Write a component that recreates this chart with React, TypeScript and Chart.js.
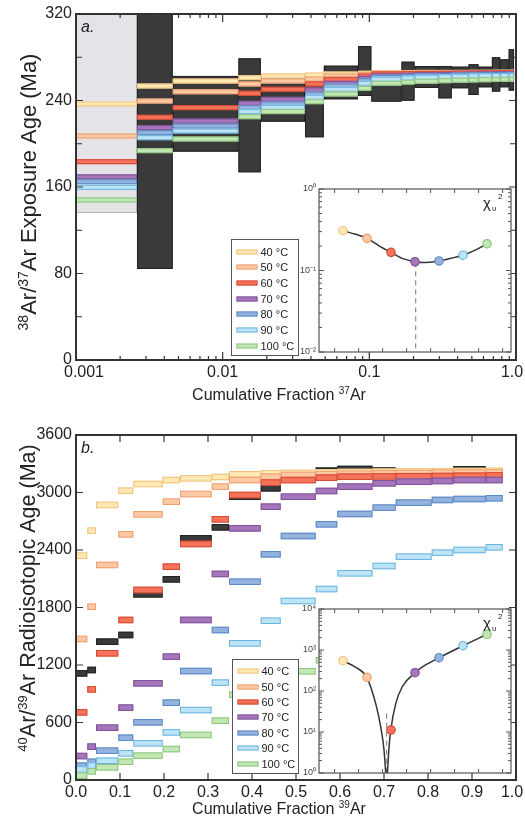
import React, { useEffect, useRef } from 'react';
import { Chart, registerables } from 'chart.js';

Chart.register(...registerables);

const FONT = "'Liberation Sans', Arimo, Arial, sans-serif";
Chart.defaults.font.family = FONT;
Chart.defaults.color = '#222';

// ---------- shared series styling ----------
const TEMP_LABELS = ['40 °C', '50 °C', '60 °C', '70 °C', '80 °C', '90 °C', '100 °C'];
const TEMP_C = [40, 50, 60, 70, 80, 90, 100];
const TEMP_FILL = ['#fee9b4', '#fcc9a4', '#f4735a', '#a676bb', '#93b3de', '#bde4f6', '#c3e6b5'];
const TEMP_EDGE = ['#efc27e', '#eea06f', '#d54a34', '#7f5298', '#5c88c4', '#69b4de', '#8cc67e'];
const MEAS_FILL = '#3a3a3a';
const MEAS_EDGE = '#222222';

// ---------- panel a: 38Ar/37Ar exposure ages ----------
const A_STEPS = [0.001, 0.002605, 0.004566, 0.01281, 0.01821, 0.03645, 0.04894, 0.08368, 0.1032, 0.1657, 0.2033, 0.2955, 0.3645, 0.4743, 0.5554, 0.6848, 0.7808, 0.8913, 0.97];
const A_40 = [236.8, 253.4, 258.0, 261.1, 262.7, 263.6, 264.5, 265.2, 265.8, 265.9, 266.0, 266.0, 266.0, 266.1, 266.1, 266.2, 266.2, 266.2];
const A_50 = [207.2, 239.5, 248.1, 255.3, 258.0, 259.9, 262.7, 263.9, 265.2, 265.4, 265.5, 265.6, 265.7, 265.8, 265.8, 265.9, 265.9, 266.0];
const A_60 = [183.4, 224.5, 233.4, 246.7, 250.4, 255.3, 259.6, 262.7, 264.6, 264.9, 265.1, 265.2, 265.4, 265.5, 265.6, 265.7, 265.7, 265.8];
const A_70 = [169.4, 214.9, 221.0, 237.4, 241.1, 249.7, 255.9, 260.5, 262.8, 263.4, 263.8, 264.1, 264.3, 264.5, 264.6, 264.7, 264.8, 264.9];
const A_80 = [164.9, 210.2, 216.4, 233.4, 236.8, 246.0, 253.4, 258.3, 261.5, 262.3, 262.8, 263.2, 263.5, 263.7, 263.9, 264.0, 264.1, 264.2];
const A_90 = [159.7, 205.6, 211.8, 229.7, 233.7, 243.0, 250.4, 255.9, 259.7, 260.8, 261.5, 262.0, 262.4, 262.7, 262.9, 263.1, 263.2, 263.3];
const A_100 = [148.0, 193.6, 204.4, 225.0, 229.7, 238.9, 246.0, 251.3, 255.9, 257.0, 257.8, 258.3, 258.7, 259.0, 259.2, 259.4, 259.6, 259.7];
const A_MEAS_LO = [84.2, 192.7, 173.6, 220.4, 206.0, 241.1, 244.2, 238.9, 239.8, 251.6, 242.0, 251.3, 245.1, 252.2, 248.2, 252.2, 249.1];
const A_MEAS_HI = [330.0, 262.7, 279.0, 263.6, 264.5, 272.2, 290.4, 267.3, 275.9, 271.9, 271.9, 271.3, 273.5, 271.3, 280.0, 278.1, 287.4];
const A_EXCLUDED_LO = 136;
const A_EXCLUDED_HI = 320;
const A_HALF = 2.3;
const A_X_TICKS = [0.001, 0.01, 0.1, 1];
const A_X_LABELS = ['\u20030.001', '0.01', '0.1', '1.0\u2002'];
const A_Y_TICKS = [0, 80, 160, 240, 320];
const A_Y_MINOR = [40, 120, 200, 280];
const A_X_TITLE = [{ t: 'Cumulative Fraction ' }, { t: '37', sup: true }, { t: 'Ar' }];
const A_Y_TITLE = [{ t: '38', sup: true }, { t: 'Ar/' }, { t: '37', sup: true }, { t: 'Ar Exposure Age (Ma)' }];

// inset a (reduced chi-square)
const INSET_A_CHI = [0.308, 0.248, 0.167, 0.128, 0.131, 0.154, 0.213];
const INSET_A_FIT_T = [40, 45.3, 50, 55, 60, 64.7, 70, 73, 80, 84.9, 90, 95.3, 100];
const INSET_A_FIT_V = [0.308, 0.278, 0.248, 0.201, 0.167, 0.141, 0.128, 0.125, 0.131, 0.141, 0.154, 0.179, 0.213];
const INSET_A_BEST_T = 70.3;
const INSET_A_BEST_V = [0.126, 0.01];
const INSET_A_Y_TICKS = [1, 0.1, 0.01];
const INSET_A_Y_LABELS = ['10⁰', '10⁻¹', '10⁻²'];

// ---------- panel b: 40Ar/39Ar ages ----------
const B_STEPS = [0, 0.0257, 0.0455, 0.0961, 0.1302, 0.197, 0.2364, 0.3084, 0.3477, 0.4198, 0.4652, 0.5448, 0.5939, 0.6739, 0.7266, 0.8084, 0.8575, 0.9311, 0.9698];
const B_40 = [2341, 2602, 2870, 3019, 3089, 3130, 3148, 3162, 3190, 3200, 3205, 3210, 3214, 3217, 3220, 3222, 3224, 3226];
const B_50 = [1471, 1808, 2244, 2564, 2772, 2904, 2984, 3061, 3130, 3165, 3183, 3190, 3195, 3200, 3203, 3206, 3208, 3210];
const B_60 = [706, 946, 1322, 1670, 1983, 2226, 2463, 2720, 2974, 3103, 3130, 3155, 3165, 3168, 3170, 3172, 3175, 3178];
const B_70 = [250, 348, 546, 755, 1009, 1287, 1670, 2150, 2626, 2852, 2956, 3016, 3061, 3096, 3113, 3120, 3130, 3130];
const B_80 = [150, 190, 306, 441, 602, 807, 1137, 1565, 2069, 2355, 2546, 2668, 2776, 2842, 2894, 2922, 2932, 2940];
const B_90 = [110, 150, 201, 278, 383, 497, 730, 1016, 1426, 1662, 1868, 1993, 2157, 2233, 2330, 2372, 2400, 2428];
const B_100 = [45, 90, 132, 191, 254, 323, 470, 619, 890, 1010, 1135, 1250, 1380, 1480, 1570, 1640, 1700, 1740];
const B_MEAS = [1113, 1148, 1443, 1513, 1938, 2094, 2522, 2637, 2956, 3044, 3140, 3228, 3245, 3228, 3185, 3185, 3242, 3195];
const B_HALF = 34;
const B_X_TICKS = [0, 0.1, 0.2, 0.3, 0.4, 0.5, 0.6, 0.7, 0.8, 0.9, 1.0];
const B_X_LABELS = ['0.0', '0.1', '0.2', '0.3', '0.4', '0.5', '0.6', '0.7', '0.8', '0.9', '1.0\u2002'];
const B_Y_TICKS = [0, 600, 1200, 1800, 2400, 3000, 3600];
const B_Y_LABELS = ['0', '600', '1200', '1800', '2400', '3000', '3600'];
const B_X_TITLE = [{ t: 'Cumulative Fraction ' }, { t: '39', sup: true }, { t: 'Ar' }];
const B_Y_TITLE = [{ t: '40', sup: true }, { t: 'Ar/' }, { t: '39', sup: true }, { t: 'Ar Radioisotopic Age (Ma)' }];

// inset b (reduced chi-square)
const INSET_B_CHI = [548, 216, 11.2, 279, 649, 1273, 2415];
const INSET_B_LEFT_T = [40, 45.3, 49.9, 53.6, 55.7, 57.1, 57.8];
const INSET_B_LEFT_V = [548, 378, 216, 50, 13.5, 3.6, 1];
const INSET_B_RIGHT_T = [58.5, 59.2, 59.9, 62, 64.7, 70, 74.4, 80, 90, 100];
const INSET_B_RIGHT_V = [1, 4.4, 11.2, 50, 127, 279, 431, 649, 1273, 2415];
const INSET_B_BEST_T = 58.2;
const INSET_B_BEST_V = [28, 1];
const INSET_B_Y_TICKS = [10000, 1000, 100, 10, 1];
const INSET_B_Y_LABELS = ['10⁴', '10³', '10²', '10¹', '10⁰'];

const INSET_X_TICKS = [36.5, 46.5, 56.5, 66.5, 76.5, 86.5, 96.5, 106.5];

// ---------- helpers ----------
function stepBoxes(steps: number[], values: number[], half: number, log: boolean, offset = 0) {
  return values.map((v, i) => {
    const x0 = steps[i + offset];
    const x1 = steps[i + offset + 1];
    return { x: log ? Math.sqrt(x0 * x1) : (x0 + x1) / 2, y: v, x0, x1, lo: v - half, hi: v + half };
  });
}
function rangeBoxes(steps: number[], lo: number[], hi: number[], log: boolean, offset = 0) {
  return lo.map((l, i) => {
    const x0 = steps[i + offset];
    const x1 = steps[i + offset + 1];
    return { x: log ? Math.sqrt(x0 * x1) : (x0 + x1) / 2, y: (l + hi[i]) / 2, x0, x1, lo: l, hi: hi[i] };
  });
}
function logMinor(decades: number[]) {
  const out: number[] = [];
  decades.forEach((d) => { for (let k = 2; k <= 9; k++) out.push(d * k); });
  return out;
}

// ---------- plugins ----------
const boxPlugin = {
  id: 'stepBoxes',
  beforeDatasetsDraw(chart: any) {
    const { ctx, chartArea: ca } = chart;
    const xs = chart.scales.x;
    const ys = chart.scales.y;
    ctx.save();
    ctx.beginPath();
    ctx.rect(ca.left, ca.top, ca.right - ca.left, ca.bottom - ca.top);
    ctx.clip();
    chart.data.datasets.forEach((ds: any) => {
      if (!ds.boxFill) return;
      ds.data.forEach((d: any) => {
        const px0 = xs.getPixelForValue(d.x0);
        const px1 = xs.getPixelForValue(d.x1);
        const py0 = ys.getPixelForValue(d.hi);
        const py1 = ys.getPixelForValue(d.lo);
        ctx.fillStyle = ds.boxFill;
        ctx.fillRect(px0, py0, px1 - px0, py1 - py0);
        ctx.strokeStyle = ds.boxEdge;
        ctx.lineWidth = 1;
        ctx.strokeRect(px0 + 0.5, py0 + 0.5, px1 - px0 - 1, py1 - py0 - 1);
      });
    });
    ctx.restore();
  },
};

const framePlugin = {
  id: 'frameTicks',
  afterDatasetsDraw(chart: any, _a: any, o: any) {
    if (!o || !o.color) return;
    const { ctx, chartArea: ca } = chart;
    const xs = chart.scales.x;
    const ys = chart.scales.y;
    ctx.save();
    ctx.strokeStyle = o.color;
    ctx.lineWidth = o.tickWidth;
    ctx.beginPath();
    const xt = (vals: number[], len: number) => (vals || []).forEach((v) => {
      const p = xs.getPixelForValue(v);
      if (p < ca.left - 1 || p > ca.right + 1) return;
      ctx.moveTo(p, ca.bottom); ctx.lineTo(p, ca.bottom - len);
      ctx.moveTo(p, ca.top); ctx.lineTo(p, ca.top + len);
    });
    const yt = (vals: number[], len: number) => (vals || []).forEach((v) => {
      const p = ys.getPixelForValue(v);
      if (p < ca.top - 1 || p > ca.bottom + 1) return;
      ctx.moveTo(ca.left, p); ctx.lineTo(ca.left + len, p);
      ctx.moveTo(ca.right, p); ctx.lineTo(ca.right - len, p);
    });
    xt(o.xMajor, o.xMajorLen);
    xt(o.xMinor, o.xMinorLen);
    yt(o.yMajor, o.yMajorLen);
    yt(o.yMinor, o.yMinorLen);
    ctx.stroke();
    ctx.lineWidth = o.frameWidth;
    ctx.strokeRect(ca.left, ca.top, ca.right - ca.left, ca.bottom - ca.top);
    ctx.restore();
  },
};

const legendPlugin = {
  id: 'boxLegend',
  afterDraw(chart: any, _a: any, o: any) {
    if (!o || !o.height) return;
    const { ctx, chartArea: ca } = chart;
    const items = chart.data.datasets.filter((d: any) => d.inLegend);
    const left = Math.round(ca.left + o.left) + 0.5;
    const bottom = Math.round(ca.bottom - o.bottom) + 0.5;
    const top = bottom - o.height;
    ctx.save();
    ctx.fillStyle = '#ffffff';
    ctx.fillRect(left, top, o.width, o.height);
    ctx.strokeStyle = '#555';
    ctx.lineWidth = 1;
    ctx.strokeRect(left, top, o.width, o.height);
    ctx.font = `11px ${FONT}`;
    ctx.textBaseline = 'middle';
    items.forEach((d: any, i: number) => {
      const cy = Math.round(top + o.first + i * o.row);
      ctx.fillStyle = d.boxFill;
      ctx.fillRect(left + 5, cy - 2.5, 21, 5);
      ctx.strokeStyle = d.boxEdge;
      ctx.strokeRect(left + 5.5, cy - 2, 20, 4);
      ctx.fillStyle = '#222';
      ctx.fillText(d.label, left + 29, cy + 0.5);
    });
    ctx.restore();
  },
};

// axis titles with real superscripts
function drawRich(ctx: any, segs: any[], size: number, cx: number, cy: number, vertical: boolean) {
  const supSize = Math.round(size * 0.62);
  const fontFor = (s: any) => `${s.sup ? supSize : size}px ${FONT}`;
  ctx.save();
  ctx.translate(cx, cy);
  if (vertical) ctx.rotate(-Math.PI / 2);
  let total = 0;
  segs.forEach((s) => { ctx.font = fontFor(s); total += ctx.measureText(s.t).width; });
  let x = -total / 2;
  const base = size * 0.36;
  ctx.fillStyle = '#222';
  ctx.textBaseline = 'alphabetic';
  segs.forEach((s) => {
    ctx.font = fontFor(s);
    ctx.fillText(s.t, x, s.sup ? base - size * 0.38 : base);
    x += ctx.measureText(s.t).width;
  });
  ctx.restore();
}

const titlePlugin = {
  id: 'richTitles',
  afterDraw(chart: any, _a: any, o: any) {
    if (!o || !o.x) return;
    const { ctx } = chart;
    drawRich(ctx, o.x.segs, o.x.size, o.x.cx, o.x.cy, false);
    drawRich(ctx, o.y.segs, o.y.size, o.y.cx, o.y.cy, true);
  },
};

const notePlugin = {
  id: 'notes',
  afterDraw(chart: any, _a: any, o: any) {
    if (!o) return;
    const { ctx, chartArea: ca } = chart;
    ctx.save();
    ctx.fillStyle = '#222';
    ctx.textBaseline = 'alphabetic';
    if (o.panel) {
      ctx.font = `italic 16px ${FONT}`;
      ctx.fillText(o.panel, ca.left + 5, ca.top + 18);
    }
    if (o.chi) {
      const x = ca.right - 28;
      const y = ca.top + 19;
      ctx.font = `15px ${FONT}`;
      ctx.fillText('χ', x, y);
      ctx.font = `8px ${FONT}`;
      ctx.fillText('υ', x + 9, y + 3);
      ctx.fillText('2', x + 15, y - 9);
    }
    ctx.restore();
  },
};

const insetBgPlugin = {
  id: 'insetBg',
  beforeDraw(chart: any, _a: any, o: any) {
    if (!o || !o.color) return;
    const { ctx, chartArea: ca } = chart;
    ctx.save();
    ctx.fillStyle = o.color;
    ctx.fillRect(ca.left, ca.top, ca.right - ca.left, ca.bottom - ca.top);
    ctx.restore();
  },
};

const noGrid = { display: false, drawTicks: false };

// ---------- configs ----------
function tempDatasets(series: number[][], steps: number[], half: number, log: boolean) {
  return series.map((vals, i) => ({
    label: TEMP_LABELS[i],
    data: stepBoxes(steps, vals, half, log),
    boxFill: TEMP_FILL[i],
    boxEdge: TEMP_EDGE[i],
    inLegend: true,
    pointRadius: 0,
    pointHoverRadius: 0,
  }));
}

function mainA(): any {
  return {
    type: 'scatter',
    data: {
      datasets: [
        {
          label: 'Excluded',
          data: rangeBoxes(A_STEPS, [A_EXCLUDED_LO], [A_EXCLUDED_HI], true, 0),
          boxFill: '#e4e4e8', boxEdge: '#b4b4b8', pointRadius: 0,
        },
        {
          label: 'Measured',
          data: rangeBoxes(A_STEPS, A_MEAS_LO, A_MEAS_HI, true, 1),
          boxFill: MEAS_FILL, boxEdge: MEAS_EDGE, pointRadius: 0,
        },
        ...tempDatasets([A_40, A_50, A_60, A_70, A_80, A_90, A_100], A_STEPS, A_HALF, true),
      ],
    },
    options: {
      animation: false,
      responsive: false,
      events: [],
      layout: { padding: { top: 14, right: 9, left: 0, bottom: 0 } },
      plugins: {
        legend: { display: false },
        tooltip: { enabled: false },
        frameTicks: {
          color: '#333', tickWidth: 1.2, frameWidth: 2,
          xMajor: A_X_TICKS, xMinor: logMinor([0.001, 0.01, 0.1]), xMajorLen: 8, xMinorLen: 4,
          yMajor: A_Y_TICKS, yMinor: A_Y_MINOR, yMajorLen: 7, yMinorLen: 6,
        },
        boxLegend: { left: 155, bottom: 5, width: 67, height: 116, first: 12, row: 15.7 },
        notes: { panel: 'a.' },
        richTitles: {
          x: { segs: A_X_TITLE, size: 16, cx: 279, cy: 394 },
          y: { segs: A_Y_TITLE, size: 22, cx: 28, cy: 192 },
        },
      },
      scales: {
        x: {
          type: 'logarithmic', min: 0.001, max: 1,
          afterBuildTicks: (s: any) => { s.ticks = A_X_TICKS.map((v) => ({ value: v })); },
          ticks: {
            autoSkip: false, maxRotation: 0, padding: 3, font: { size: 16 }, color: '#222',
            callback: (_v: any, i: number) => A_X_LABELS[i],
          },
          grid: noGrid, border: { display: false },
          afterFit: (s: any) => { s.height = 55; s.paddingLeft = 0; s.paddingRight = 0; },
        },
        y: {
          type: 'linear', min: 0, max: 320,
          afterBuildTicks: (s: any) => { s.ticks = A_Y_TICKS.map((v) => ({ value: v })); },
          ticks: { padding: 4, font: { size: 16 }, color: '#222', callback: (v: any) => String(v) },
          grid: noGrid, border: { display: false },
          afterFit: (s: any) => { s.width = 76; s.paddingTop = 0; s.paddingBottom = 0; },
        },
      },
    },
    plugins: [boxPlugin, framePlugin, legendPlugin, notePlugin, titlePlugin],
  };
}

function mainB(): any {
  return {
    type: 'scatter',
    data: {
      datasets: [
        {
          label: 'Measured',
          data: stepBoxes(B_STEPS, B_MEAS, B_HALF, false),
          boxFill: MEAS_FILL, boxEdge: MEAS_EDGE, pointRadius: 0,
        },
        ...tempDatasets([B_40, B_50, B_60, B_70, B_80, B_90, B_100], B_STEPS, B_HALF, false),
      ],
    },
    options: {
      animation: false,
      responsive: false,
      events: [],
      layout: { padding: { top: 20, right: 9, left: 0, bottom: 0 } },
      plugins: {
        legend: { display: false },
        tooltip: { enabled: false },
        frameTicks: {
          color: '#333', tickWidth: 1.2, frameWidth: 2,
          xMajor: B_X_TICKS, xMinor: [], xMajorLen: 7, xMinorLen: 4,
          yMajor: B_Y_TICKS, yMinor: [], yMajorLen: 7, yMinorLen: 4,
        },
        boxLegend: { left: 156, bottom: 7, width: 66, height: 114, first: 11.7, row: 15.4 },
        notes: { panel: 'b.' },
        richTitles: {
          x: { segs: B_X_TITLE, size: 16, cx: 279, cy: 393 },
          y: { segs: B_Y_TITLE, size: 21.5, cx: 27, cy: 183 },
        },
      },
      scales: {
        x: {
          type: 'linear', min: 0, max: 1,
          afterBuildTicks: (s: any) => { s.ticks = B_X_TICKS.map((v) => ({ value: v })); },
          ticks: {
            autoSkip: false, maxRotation: 0, padding: 3, font: { size: 16 }, color: '#222',
            callback: (_v: any, i: number) => B_X_LABELS[i],
          },
          grid: noGrid, border: { display: false },
          afterFit: (s: any) => { s.height = 44; s.paddingLeft = 0; s.paddingRight = 0; },
        },
        y: {
          type: 'linear', min: 0, max: 3600,
          afterBuildTicks: (s: any) => { s.ticks = B_Y_TICKS.map((v) => ({ value: v })); },
          ticks: { padding: 4, font: { size: 16 }, color: '#222', callback: (_v: any, i: number) => B_Y_LABELS[i] },
          grid: noGrid, border: { display: false },
          afterFit: (s: any) => { s.width = 76; s.paddingTop = 0; s.paddingBottom = 0; },
        },
      },
    },
    plugins: [boxPlugin, framePlugin, legendPlugin, notePlugin, titlePlugin],
  };
}

function insetConfig(opts: {
  chi: number[]; fits: { t: number[]; v: number[] }[]; bestT: number; bestV: number[];
  yMin: number; yMax: number; yTicks: number[]; yLabels: string[]; yDecades: number[]; xAxisH: number;
}): any {
  return {
    type: 'scatter',
    data: {
      datasets: [
        {
          label: 'χυ²',
          data: TEMP_C.map((t, i) => ({ x: t, y: opts.chi[i] })),
          pointRadius: 4.2,
          pointBackgroundColor: TEMP_FILL,
          pointBorderColor: TEMP_EDGE,
          pointBorderWidth: 1.2,
          order: 1,
        },
        ...opts.fits.map((f, k) => ({
          type: 'line',
          label: 'fit ' + k,
          data: f.t.map((t, i) => ({ x: t, y: f.v[i] })),
          showLine: true,
          borderColor: '#333',
          borderWidth: 1.5,
          pointRadius: 0,
          cubicInterpolationMode: 'monotone',
          fill: false,
          order: 2,
        })),
        {
          type: 'line',
          label: 'minimum',
          data: opts.bestV.map((v) => ({ x: opts.bestT, y: v })),
          showLine: true,
          borderColor: '#777',
          borderWidth: 1,
          borderDash: [5, 4],
          pointRadius: 0,
          fill: false,
          order: 3,
        },
      ],
    },
    options: {
      animation: false,
      responsive: false,
      events: [],
      layout: { padding: { top: 9, right: 9, left: 0, bottom: 0 } },
      plugins: {
        legend: { display: false },
        tooltip: { enabled: false },
        insetBg: { color: '#ffffff' },
        frameTicks: {
          color: '#555', tickWidth: 1, frameWidth: 1.2,
          xMajor: INSET_X_TICKS, xMinor: [], xMajorLen: 4, xMinorLen: 2,
          yMajor: opts.yTicks, yMinor: logMinor(opts.yDecades), yMajorLen: 5, yMinorLen: 3,
        },
        notes: { chi: true },
      },
      scales: {
        x: {
          type: 'linear', min: 30, max: 110,
          ticks: { display: false },
          grid: noGrid, border: { display: false },
          afterFit: (s: any) => { s.height = opts.xAxisH; s.paddingLeft = 0; s.paddingRight = 0; },
        },
        y: {
          type: 'logarithmic', min: opts.yMin, max: opts.yMax,
          afterBuildTicks: (s: any) => { s.ticks = opts.yTicks.map((v) => ({ value: v })); },
          ticks: {
            padding: 3, font: { size: 9 }, color: '#444',
            callback: (_v: any, i: number) => opts.yLabels[i],
          },
          grid: noGrid, border: { display: false },
          afterFit: (s: any) => { s.width = 29; s.paddingTop = 0; s.paddingBottom = 0; },
        },
      },
    },
    plugins: [insetBgPlugin, framePlugin, notePlugin],
  };
}

export default function App() {
  const aRef = useRef<HTMLCanvasElement>(null);
  const bRef = useRef<HTMLCanvasElement>(null);
  const iaRef = useRef<HTMLCanvasElement>(null);
  const ibRef = useRef<HTMLCanvasElement>(null);

  useEffect(() => {
    const charts = [
      new Chart(aRef.current as HTMLCanvasElement, mainA()),
      new Chart(bRef.current as HTMLCanvasElement, mainB()),
      new Chart(iaRef.current as HTMLCanvasElement, insetConfig({
        chi: INSET_A_CHI,
        fits: [{ t: INSET_A_FIT_T, v: INSET_A_FIT_V }],
        bestT: INSET_A_BEST_T, bestV: INSET_A_BEST_V,
        yMin: 0.01, yMax: 1, yTicks: INSET_A_Y_TICKS, yLabels: INSET_A_Y_LABELS,
        yDecades: [0.01, 0.1], xAxisH: 8,
      })),
      new Chart(ibRef.current as HTMLCanvasElement, insetConfig({
        chi: INSET_B_CHI,
        fits: [{ t: INSET_B_LEFT_T, v: INSET_B_LEFT_V }, { t: INSET_B_RIGHT_T, v: INSET_B_RIGHT_V }],
        bestT: INSET_B_BEST_T, bestV: INSET_B_BEST_V,
        yMin: 1, yMax: 10000, yTicks: INSET_B_Y_TICKS, yLabels: INSET_B_Y_LABELS,
        yDecades: [1, 10, 100, 1000], xAxisH: 7,
      })),
    ];
    return () => charts.forEach((c) => c.destroy());
  }, []);

  const abs = (left: number, top: number): React.CSSProperties => ({ position: 'absolute', left, top });

  return (
    <div style={{ position: 'absolute', left: 0, top: 0, width: 525, height: 824, background: '#ffffff', overflow: 'hidden' }}>
      <canvas ref={aRef} width={525} height={415} style={abs(0, 0)} />
      <canvas ref={bRef} width={525} height={409} style={abs(0, 415)} />
      <canvas ref={iaRef} width={230} height={180} style={abs(290, 180)} />
      <canvas ref={ibRef} width={230} height={180} style={abs(290, 600)} />
    </div>
  );
}
